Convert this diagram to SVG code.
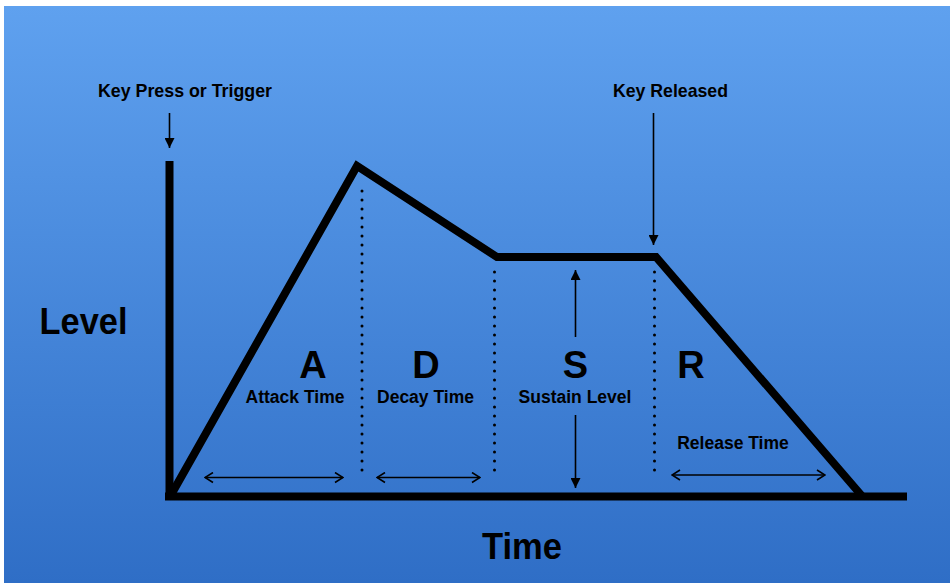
<svg xmlns="http://www.w3.org/2000/svg" width="950" height="583" viewBox="0 0 950 583">
<defs>
<linearGradient id="bg" x1="0" y1="0" x2="0" y2="1">
<stop offset="0" stop-color="#5fa1ef"/>
<stop offset="1" stop-color="#2f6ec6"/>
</linearGradient>
<marker id="tri" viewBox="0 0 10 10" refX="10" refY="5" markerWidth="10" markerHeight="10" markerUnits="userSpaceOnUse" orient="auto">
<path d="M0,0 L10,5 L0,10 Z" fill="#000"/>
</marker>
<marker id="chev" viewBox="0 0 10 12" refX="9" refY="6" markerWidth="10" markerHeight="12" markerUnits="userSpaceOnUse" orient="auto-start-reverse">
<path d="M1,1 L9,6 L1,11" fill="none" stroke="#000" stroke-width="1.6"/>
</marker>
<style>
text{font-family:"Liberation Sans",Arial,Helvetica,sans-serif;font-weight:bold;fill:#000;text-anchor:middle}
.thick{fill:none;stroke:#000;stroke-width:8}
.dot{fill:none;stroke:#000;stroke-width:3;stroke-linecap:round;stroke-dasharray:0 9}
.thin{fill:none;stroke:#000;stroke-width:1.6}
.small{font-size:17.5px}
.big{font-size:38px}
</style>
</defs>
<rect x="0" y="0" width="950" height="583" fill="#fff"/>
<rect x="4" y="6" width="946" height="577" fill="url(#bg)"/>

<g id="axes">
<path class="thick" d="M169.5,161 V500"/>
<path class="thick" d="M165,496.5 H907" stroke-width="9"/>
</g>

<g id="envelope">
<path class="thick" d="M171,495 L357,166 L497,257 L656,257 L862,496" stroke-linejoin="miter"/>
</g>

<g id="connectors">
<path class="dot" d="M362,191 V478"/>
<path class="dot" d="M494.5,272 V478"/>
<path class="dot" d="M654.5,272 V478"/>
<path class="thin" d="M169.5,113 V148" marker-end="url(#tri)"/>
<path class="thin" d="M653.5,113 V245" marker-end="url(#tri)"/>
<path class="thin" d="M575.5,337 V270" marker-end="url(#tri)"/>
<path class="thin" d="M575.5,415 V488" marker-end="url(#tri)"/>
<path class="thin" d="M205,477.5 H343" marker-start="url(#chev)" marker-end="url(#chev)"/>
<path class="thin" d="M377,477.5 H480" marker-start="url(#chev)" marker-end="url(#chev)"/>
<path class="thin" d="M672,475 H825" marker-start="url(#chev)" marker-end="url(#chev)"/>
</g>

<g id="label-trigger"><text x="185" y="97" font-size="19" textLength="174" lengthAdjust="spacingAndGlyphs">Key Press or Trigger</text></g>
<g id="label-released"><text x="670.5" y="97" font-size="19" textLength="115" lengthAdjust="spacingAndGlyphs">Key Released</text></g>
<g id="label-level"><text x="83.5" y="334" font-size="37" textLength="88" lengthAdjust="spacingAndGlyphs">Level</text></g>
<g id="label-time"><text x="522" y="559" font-size="37" textLength="80" lengthAdjust="spacingAndGlyphs">Time</text></g>

<g id="attack">
<text class="big" x="313" y="378">A</text>
<text class="small" x="295" y="403">Attack Time</text>
</g>
<g id="decay">
<text class="big" x="426" y="378">D</text>
<text class="small" x="425.5" y="403">Decay Time</text>
</g>
<g id="sustain">
<text class="big" x="575.5" y="378">S</text>
<text class="small" x="575" y="403">Sustain Level</text>
</g>
<g id="release">
<text class="big" x="691" y="378">R</text>
<text class="small" x="733" y="449">Release Time</text>
</g>
</svg>
